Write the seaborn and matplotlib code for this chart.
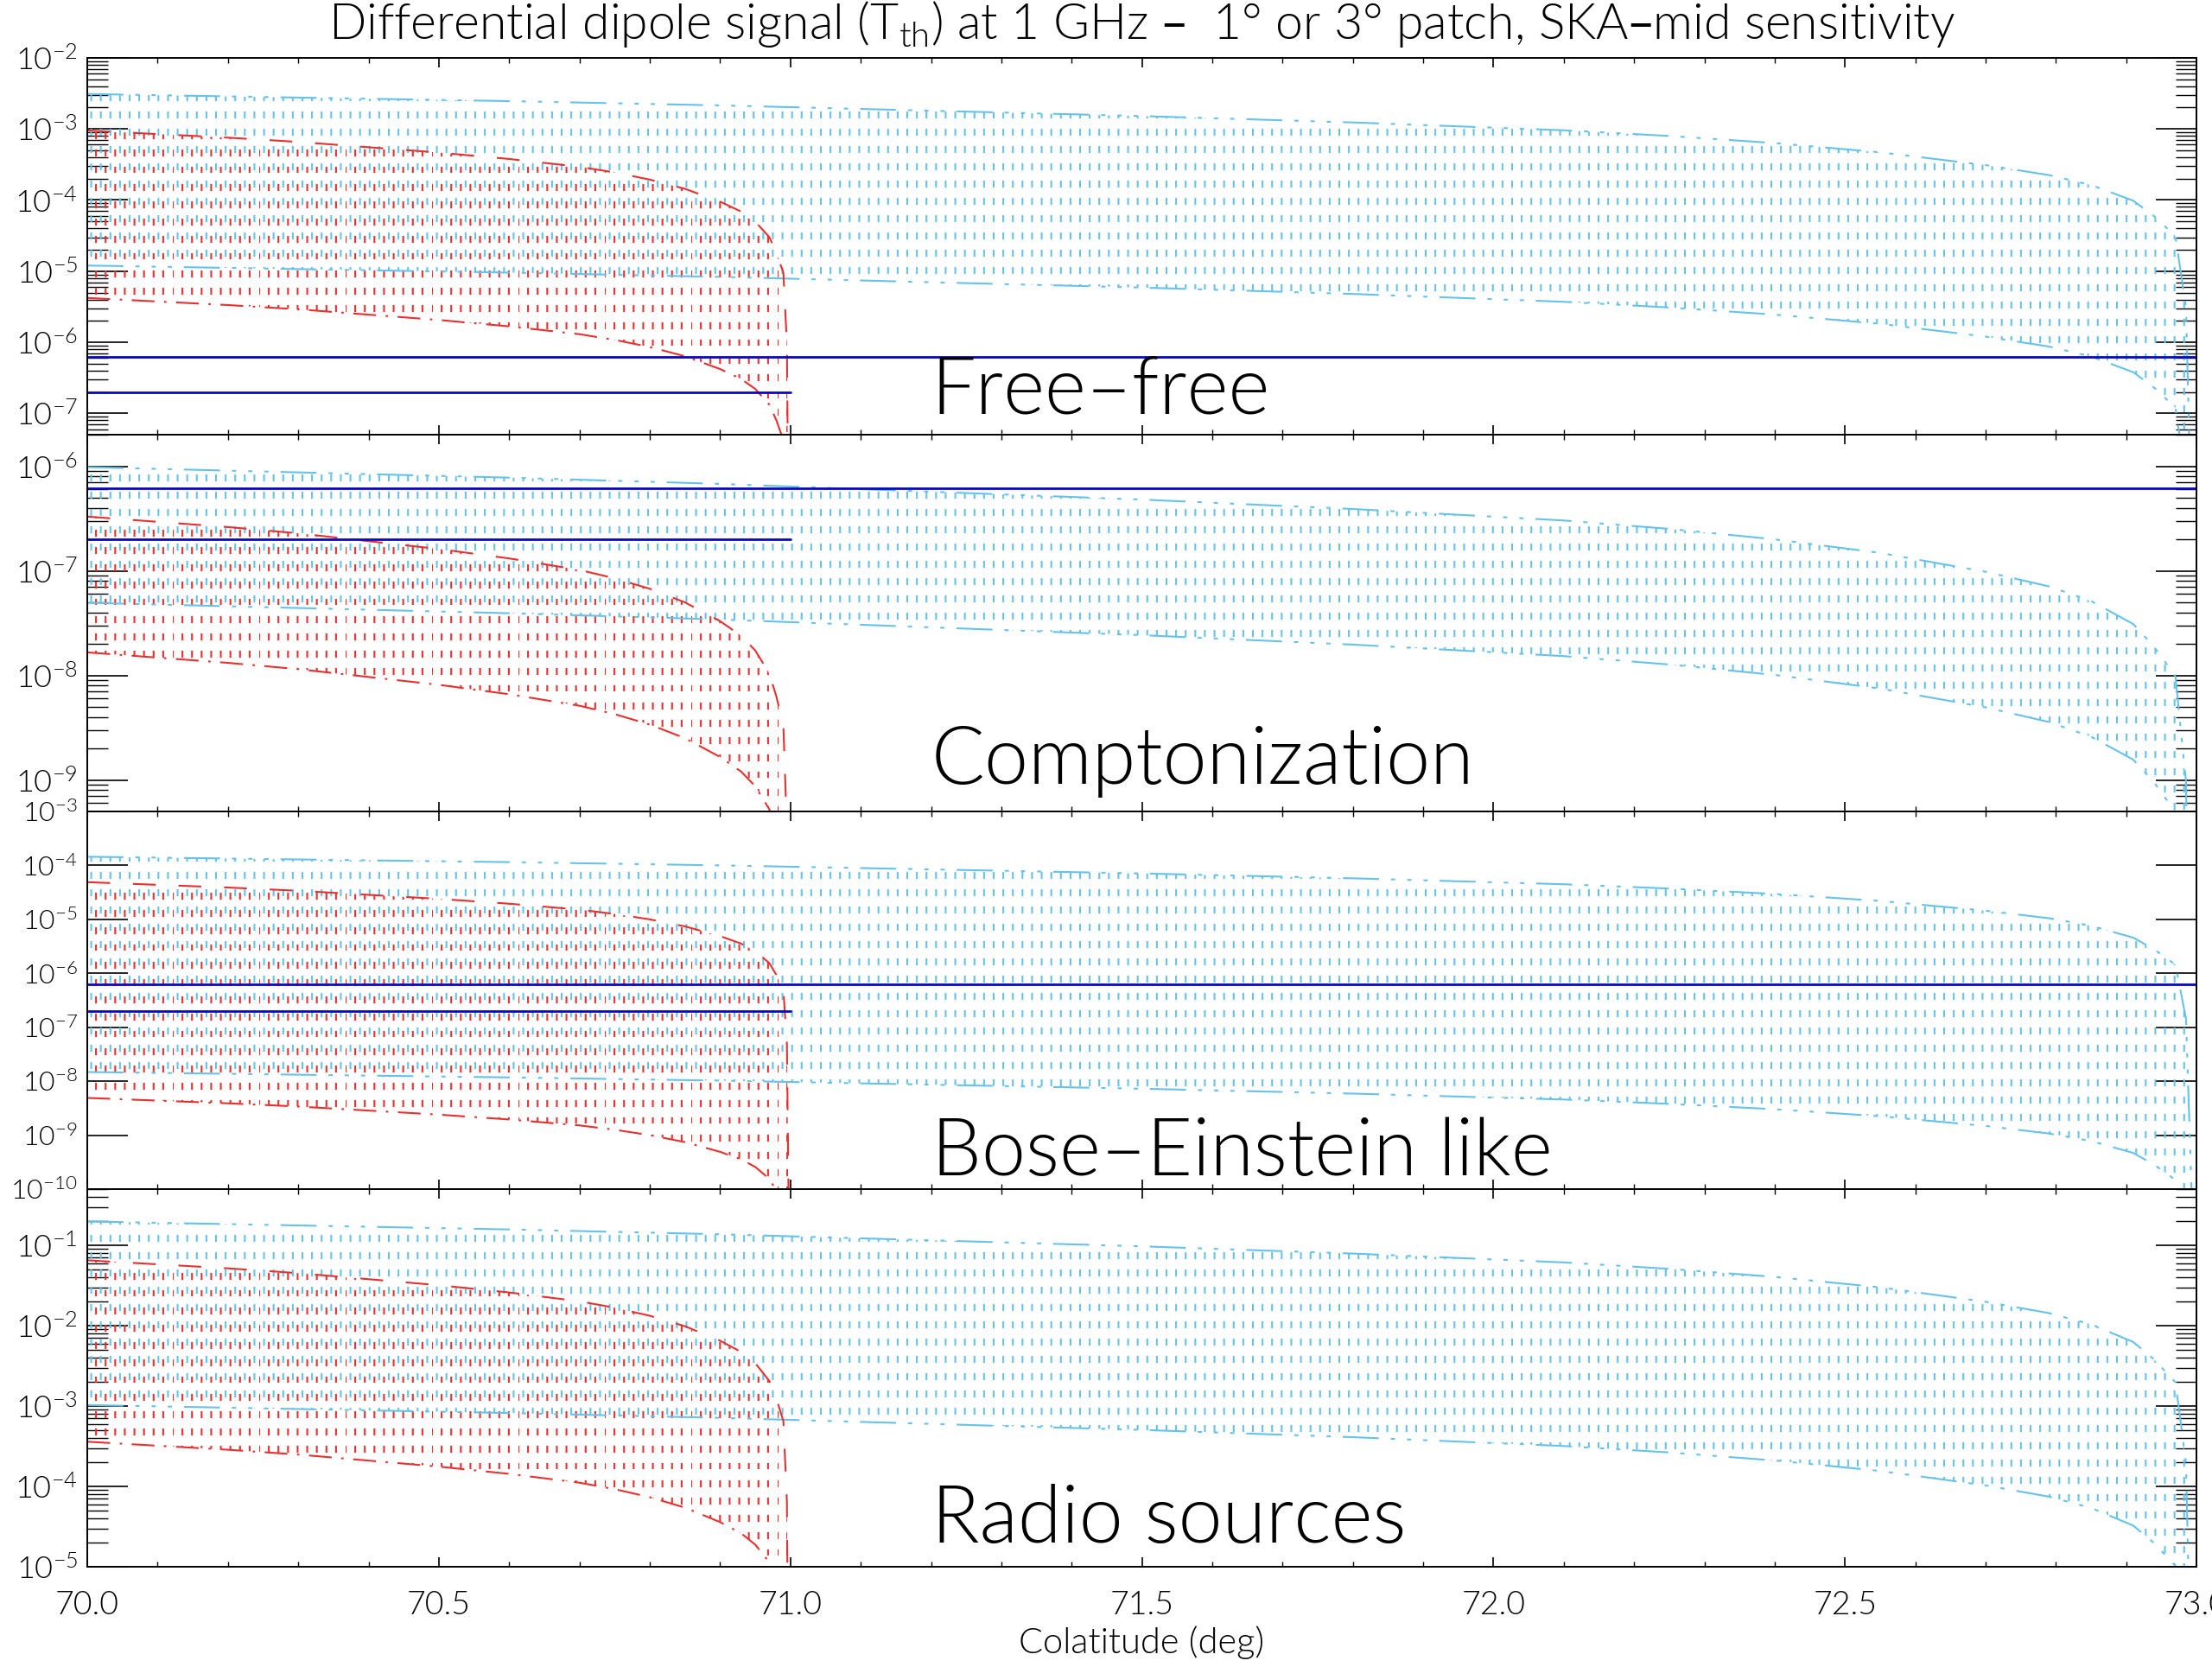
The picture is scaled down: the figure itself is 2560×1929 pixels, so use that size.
import numpy as np
import matplotlib
matplotlib.use("Agg")
import matplotlib.pyplot as plt
import matplotlib.hatch as mhatch
from matplotlib import font_manager
from matplotlib.path import Path
from matplotlib.ticker import (LogLocator, LogFormatterSciNotation, MultipleLocator,
                               NullFormatter, NullLocator, FormatStrFormatter)
import seaborn as sns

# ---- data ----
# shape of the signal across a patch: fraction of the patch width vs. dex below the value at 70 deg
patch_frac = np.array([0.0, 0.1, 0.2, 0.3, 0.4, 0.5, 0.6, 0.7, 0.75, 0.8, 0.85,
                       0.9, 0.93, 0.95, 0.97, 0.98, 0.99, 0.995, 1.0])
profile_dex = np.array([0.0, -0.05, -0.10, -0.16, -0.235, -0.31, -0.40, -0.51, -0.59, -0.69, -0.82,
                        -1.0, -1.14, -1.28, -1.50, -1.72, -2.0, -3.0, -9.0])

colat_start = 70.0
patch_1deg = 1.0
patch_3deg = 3.0

panel_names = ["Free\u2013free", "Comptonization", "Bose\u2013Einstein like", "Radio sources"]

# envelope values at colatitude 70 deg (upper / lower curve of each family)
red_upper = [9.5e-4, 3.3e-7, 4.9e-5, 6.5e-2]     # 1 deg patch
red_lower = [4.2e-6, 1.66e-8, 4.9e-9, 3.6e-4]
cyan_upper = [3.1e-3, 9.8e-7, 1.45e-4, 0.198]    # 3 deg patch
cyan_lower = [1.2e-5, 4.95e-8, 1.48e-8, 1.03e-3]

# SKA-mid sensitivity levels and the colatitude where each one stops
sens_levels = [6.2e-7, 2.0e-7]
sens_end = [73.0, 71.0]

ylims = [(5e-8, 1e-2), (5e-10, 2e-6), (1e-10, 1e-3), (1e-5, 0.5)]
label_y = [0.057, 0.074, 0.037, 0.064]
ylabel_size = [26, 26, 23, 26]

RED = "#e6312f"
CYAN = "#66c2ea"
BLUE = "#0808c2"


# IDL style line fill: vertical dotted lines ('*' -> grid, '**' -> grid shifted half a step)
class DottedLineFill(mhatch.HatchPatternBase):
    ncols, nrows, dash = 9, 5, 0.3

    def __init__(self, hatch, density):
        n = hatch.count('*')
        self.offset = 0.5 if n > 1 else 0.0
        self.num_vertices = 2 * self.ncols * self.nrows if n else 0

    def set_vertices_and_codes(self, vertices, codes):
        gx, gy = np.meshgrid((np.arange(self.ncols) + self.offset) / self.ncols,
                             (np.arange(self.nrows) + 0.4 * self.offset) / self.nrows)
        gx, gy = gx.ravel(), gy.ravel()
        vertices[0::2, 0] = gx
        vertices[0::2, 1] = gy
        vertices[1::2, 0] = gx
        vertices[1::2, 1] = gy + self.dash / self.nrows
        codes[0::2] = Path.MOVETO
        codes[1::2] = Path.LINETO


mhatch._hatch_types = [h for h in mhatch._hatch_types if h is not mhatch.Stars] + [DottedLineFill]


def pick_light_font():
    # thin strokes like the IDL vector font: take a light face if one is installed
    def wt(f):
        return f.weight if isinstance(f.weight, int) else font_manager.weight_dict.get(f.weight, 400)
    for cand in ["Lato", "Roboto", "Open Sans", "Noto Sans", "DejaVu Sans", "Inter"]:
        faces = [f for f in font_manager.fontManager.ttflist
                 if f.name.startswith(cand) and 200 <= wt(f) <= 300 and f.style == "normal"
                 and "CJK" not in f.name and "Mono" not in f.name and "Condensed" not in f.name]
        if faces:
            best = sorted(faces, key=lambda f: abs(wt(f) - 300))[0]
            return best.name, wt(best)
    return "DejaVu Sans", 400


font_name, font_weight = pick_light_font()

sns.set_style("ticks")
plt.rcParams["font.family"] = [font_name, "DejaVu Sans"]
plt.rcParams["font.weight"] = font_weight
plt.rcParams["text.color"] = "black"
plt.rcParams["xtick.color"] = "black"
plt.rcParams["ytick.color"] = "black"
plt.rcParams["hatch.linewidth"] = 1.5
plt.rcParams["lines.scale_dashes"] = False
plt.rcParams["axes.linewidth"] = 1.4

fig = plt.figure(figsize=(25.6, 19.29), dpi=100)
left, width = 0.0395, 0.9535
edges = [0.9653, 0.7392, 0.5132, 0.2867, 0.0601]
axes = [fig.add_axes([left, edges[i + 1], width, edges[i] - edges[i + 1]]) for i in range(4)]

families = [
    (patch_3deg, cyan_upper, cyan_lower, CYAN, "**",
     (0, (30, 10, 3.5, 10, 3.5, 10, 3.5, 10)), (0, (30, 10, 3.5, 10, 3.5, 10, 3.5, 10))),
    (patch_1deg, red_upper, red_lower, RED, "*",
     (0, (19, 19)), (0, (19, 8, 2, 8))),
]

for i, ax in enumerate(axes):
    ax.set_yscale("log")
    ax.set_xlim(70, 73)
    ax.set_ylim(*ylims[i])

    for size, upper, lower, color, hatch, ls_up, ls_lo in families:
        x = colat_start + size * patch_frac
        hi = upper[i] * 10 ** profile_dex
        lo = lower[i] * 10 ** profile_dex
        ax.fill_between(x, lo, hi, facecolor="none", edgecolor=color, hatch=hatch, linewidth=0)
        sns.lineplot(x=x, y=hi, ax=ax, color=color, lw=1.5, linestyle=ls_up, errorbar=None, sort=False)
        sns.lineplot(x=x, y=lo, ax=ax, color=color, lw=1.5, linestyle=ls_lo, errorbar=None, sort=False)

    for level, end in zip(sens_levels, sens_end):
        sns.lineplot(x=[colat_start, end], y=[level, level], ax=ax, color=BLUE, lw=2.0,
                     errorbar=None)

    ax.text(0.40, label_y[i], panel_names[i], transform=ax.transAxes, fontsize=66,
            ha="left", va="baseline", color="black")

    ax.yaxis.set_major_locator(LogLocator(base=10, numticks=30))
    ax.yaxis.set_major_formatter(LogFormatterSciNotation())
    if i == 2:
        ax.yaxis.set_minor_locator(NullLocator())
    else:
        ax.yaxis.set_minor_locator(LogLocator(base=10, subs=np.arange(2, 10), numticks=30))
    ax.yaxis.set_minor_formatter(NullFormatter())
    ax.xaxis.set_major_locator(MultipleLocator(0.5))
    ax.xaxis.set_minor_locator(MultipleLocator(0.1))
    ax.xaxis.set_major_formatter(FormatStrFormatter("%.1f"))

    ax.tick_params(axis="y", which="major", direction="in", left=True, right=True,
                   length=34, width=1.2, labelsize=ylabel_size[i], pad=8, labelcolor="black")
    ax.tick_params(axis="y", which="minor", direction="in", left=True, right=True,
                   length=17, width=1.0)
    ax.tick_params(axis="x", which="major", direction="in", top=True, bottom=True,
                   length=8, width=1.2, labelsize=27, pad=20, labelbottom=(i == 3),
                   labelcolor="black")
    ax.tick_params(axis="x", which="minor", direction="in", top=True, bottom=True,
                   length=4.5, width=1.0)
    for sp in ax.spines.values():
        sp.set_linewidth(1.4)
        sp.set_color("black")
    ax.set_xlabel("")
    ax.set_ylabel("")

fig.text(0.516, 0.9767,
         "Differential dipole signal (T$_{\\mathdefault{th}}$) at 1 GHz \u2013  1\u00b0 or 3\u00b0 patch, SKA\u2013mid sensitivity",
         ha="center", va="baseline", fontsize=41)
fig.text(0.516, 0.0083, "Colatitude (deg)", ha="center", va="baseline", fontsize=30)

fig.savefig("out.png", dpi=100, facecolor="white")
